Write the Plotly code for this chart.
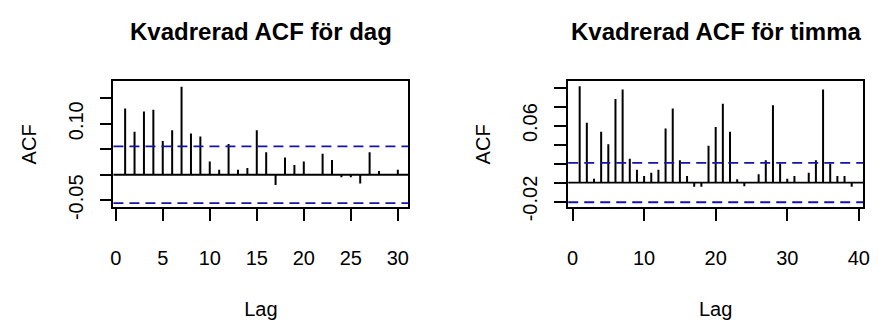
import plotly.graph_objects as go

# ---- data ----
lags_dag = list(range(1, 31))
acf_dag = [0.130, 0.084, 0.124, 0.1275, 0.066, 0.087, 0.1725, 0.081, 0.075, 0.026,
           0.010, 0.060, 0.010, 0.013, 0.087, 0.044, -0.020, 0.034, 0.019, 0.026,
           0.001, 0.041, 0.029, -0.005, -0.005, -0.017, 0.044, 0.0075, 0.001, 0.010]
ci_dag = 0.0555

lags_timma = list(range(1, 41))
acf_timma = [0.1015, 0.0629, 0.004, 0.0534, 0.0403, 0.088, 0.098, 0.025, 0.0134, 0.007,
             0.0104, 0.0134, 0.0568, 0.078, 0.0235, 0.007, -0.0044, -0.0044, 0.0387, 0.0585,
             0.083, 0.0534, 0.0034, -0.004, 0.0005, 0.0087, 0.0235, 0.0813, 0.020, 0.004,
             0.007, 0.0005, 0.0104, 0.0235, 0.098, 0.020, 0.007, 0.007, -0.0044, 0.0005]
ci_timma = 0.0208

titles = ["Kvadrerad ACF för dag", "Kvadrerad ACF för timma"]
x_label = "Lag"
y_label = "ACF"

ytick_vals_dag = [-0.05, 0.0, 0.05, 0.10, 0.15]
ytick_text_dag = ["-0.05", "", "", "0.10", ""]
ytick_vals_timma = [-0.02, 0.0, 0.02, 0.04, 0.06, 0.08, 0.10]
ytick_text_timma = ["-0.02", "", "", "", "0.06", "", ""]
xtick_vals_dag = [0, 5, 10, 15, 20, 25, 30]
xtick_vals_timma = [0, 10, 20, 30, 40]

# ---- layout constants ----
W, H = 883, 326
FONT = "Liberation Sans, Arial, sans-serif"
AX_FONT = 20
CI_COLOR = "#1414A8"


def spikes(lags, vals):
    xs, ys = [], []
    for l, v in zip(lags, vals):
        xs += [l, l, None]
        ys += [0, v, None]
    return xs, ys


fig = go.Figure()

panels = [
    dict(lags=lags_dag, vals=acf_dag, ci=ci_dag, xr=[-0.245, 31.12], yr=[-0.064, 0.183],
         xdom=[111.7 / W, 410 / W], ytv=ytick_vals_dag, ytt=ytick_text_dag, xtv=xtick_vals_dag),
    dict(lags=lags_timma, vals=acf_timma, ci=ci_timma, xr=[-0.6, 40.6], yr=[-0.0262, 0.1066],
         xdom=[571.7 / W, 870 / W], ytv=ytick_vals_timma, ytt=ytick_text_timma, xtv=xtick_vals_timma),
]
ydom = [1 - 216.7 / H, 1 - 85 / H]

shapes = []
annotations = []
for i, p in enumerate(panels, start=1):
    xa = "x" if i == 1 else f"x{i}"
    ya = "y" if i == 1 else f"y{i}"
    xs, ys = spikes(p["lags"], p["vals"])
    fig.add_trace(go.Scatter(x=xs, y=ys, mode="lines", line=dict(color="black", width=2),
                             xaxis=xa, yaxis=ya, showlegend=False, hoverinfo="skip"))
    # zero line
    shapes.append(dict(type="line", xref=f"{xa} domain", yref=ya, x0=0, x1=1, y0=0, y1=0,
                       line=dict(color="black", width=1.8)))
    # confidence lines
    for c in (p["ci"], -p["ci"]):
        shapes.append(dict(type="line", xref=f"{xa} domain", yref=ya, x0=0, x1=1, y0=c, y1=c,
                           line=dict(color=CI_COLOR, width=1.8, dash="10px,6px")))
    common_ax = dict(showgrid=False, zeroline=False, showline=True, mirror=True,
                     linecolor="black", linewidth=1.5, ticks="outside", ticklen=12,
                     tickwidth=1.5, tickcolor="black",
                     tickfont=dict(family=FONT, size=AX_FONT, color="black"))
    fig.layout[f"xaxis{'' if i == 1 else i}"] = dict(
        domain=p["xdom"], range=p["xr"], anchor=ya, tickmode="array", tickvals=p["xtv"],
        ticklabelstandoff=20,
        title=dict(text=x_label, font=dict(family=FONT, size=AX_FONT, color="black"), standoff=34),
        **common_ax)
    fig.layout[f"yaxis{'' if i == 1 else i}"] = dict(
        domain=ydom, range=p["yr"], anchor=xa, tickmode="array", tickvals=p["ytv"],
        ticktext=p["ytt"], tickangle=-90, ticklabelstandoff=9,
        title=dict(text=y_label, font=dict(family=FONT, size=AX_FONT, color="black"), standoff=23),
        **common_ax)
    annotations.append(dict(text=f"<b>{titles[i-1]}</b>", xref="paper", yref="paper",
                            x=(p["xdom"][0] + p["xdom"][1]) / 2, y=1 - 33 / H,
                            xanchor="center", yanchor="middle", showarrow=False,
                            font=dict(family=FONT, size=24, color="black")))

fig.update_layout(width=W, height=H, margin=dict(l=0, r=0, t=0, b=0),
                  plot_bgcolor="white", paper_bgcolor="white",
                  shapes=shapes, annotations=annotations, showlegend=False)

fig.write_html("out.html")
